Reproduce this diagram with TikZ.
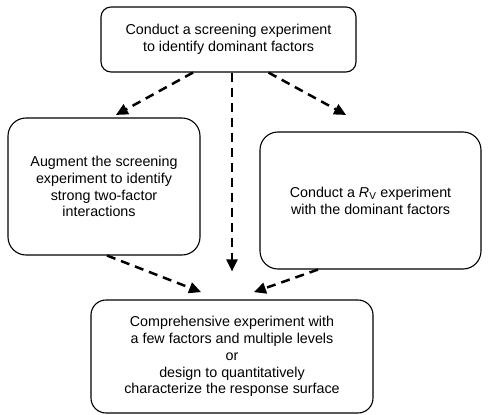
\documentclass[tikz,border=0pt]{standalone}
\usepackage{fontspec}
\setmainfont{Liberation Sans}
\usetikzlibrary{arrows.meta, positioning}

\begin{document}
\begin{tikzpicture}[%
    x = 1pt, y = -1pt,
    >= { Triangle[length=12pt, width=11pt] },
    on grid,
    every node/.style = {font = \fontsize{14.3}{16.8}\selectfont},
    box/.style = {%
      draw,
      rectangle,
      line width = 1.1pt,
      rounded corners = 18pt,
      align = center,
      inner sep = 0pt },
    flow/.style = {%
      ->,
      line width = 2.5pt,
      dash pattern = on 9pt off 6pt,
      shorten >= 1pt }
  ]

\useasboundingbox (0,0) rectangle (488,415);

\node[box, minimum width=255pt, minimum height=65pt, rounded corners=10pt] (screen) at (228.5,39.5)
  {Conduct a screening experiment\\to identify dominant factors};
\node[box, minimum width=192pt, minimum height=137pt] (augment) [below left=147pt and 124.5pt of screen]
  {Augment the screening\\experiment to identify\\strong two-factor\\interactions\hspace*{10pt}};
\node[box, minimum width=221pt, minimum height=137pt] (rfive) [below right=161pt and 142pt of screen]
  {Conduct a \textit{R}\textsubscript{V} experiment\\with the dominant factors};
\node[box, minimum width=282pt, minimum height=113pt, rounded corners=15pt] (surface) [below=317pt of screen, xshift=3.5pt]
  {Comprehensive experiment with\\a few factors and multiple levels\\or\\design to quantitatively\\characterize the response surface};

\path
([xshift=-35.5pt]screen.south) edge[flow] ([xshift=11pt, yshift=2pt]augment.north)
([xshift=3.5pt]screen.south) edge[flow] ([yshift=27pt]surface.north)
([xshift=40pt]screen.south) edge[flow] ([xshift=-23.5pt, yshift=16pt]rfive.north)

([xshift=3pt]augment.south) edge[flow] ([xshift=-30pt, yshift=7pt]surface.north)
([xshift=-52.5pt]rfive.south) edge[flow] ([xshift=21pt, yshift=7pt]surface.north);

\end{tikzpicture}
\end{document}
